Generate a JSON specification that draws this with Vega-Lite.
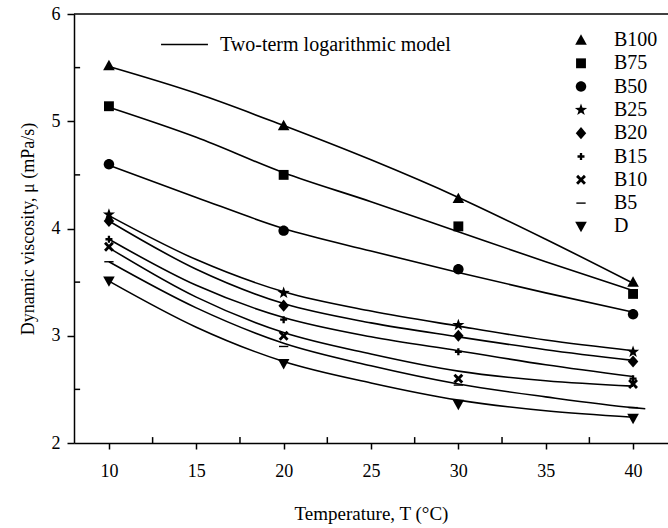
{
  "$schema": "https://vega.github.io/schema/vega-lite/v6.json",
  "width": 594,
  "height": 429,
  "autosize": {"type": "none"},
  "padding": {"left": 74, "top": 14, "right": 0, "bottom": 85},
  "background": "white",
  "config": {
    "view": {"stroke": null},
    "font": "Liberation Serif",
    "axis": {
      "domainColor": "black",
      "domainWidth": 1.5,
      "tickColor": "black",
      "tickWidth": 1.5,
      "grid": false,
      "labelFont": "Liberation Serif",
      "labelFontSize": 18,
      "labelColor": "black",
      "titleFont": "Liberation Serif",
      "titleFontSize": 18,
      "titleFontWeight": "normal",
      "titleColor": "black"
    },
    "legend": {
      "labelFont": "Liberation Serif",
      "labelFontSize": 20,
      "labelColor": "black",
      "labelLimit": 0,
      "padding": 0
    }
  },
  "datasets": {
    "curves": [
      {"series": "B100", "model": "Two-term logarithmic model", "T": 10, "mu": 5.51},
      {"series": "B100", "model": "Two-term logarithmic model", "T": 15, "mu": 5.26},
      {"series": "B100", "model": "Two-term logarithmic model", "T": 20, "mu": 4.96},
      {"series": "B100", "model": "Two-term logarithmic model", "T": 25, "mu": 4.64},
      {"series": "B100", "model": "Two-term logarithmic model", "T": 30, "mu": 4.29},
      {"series": "B100", "model": "Two-term logarithmic model", "T": 35, "mu": 3.9},
      {"series": "B100", "model": "Two-term logarithmic model", "T": 40, "mu": 3.49},
      {"series": "B75", "model": "Two-term logarithmic model", "T": 10, "mu": 5.13},
      {"series": "B75", "model": "Two-term logarithmic model", "T": 15, "mu": 4.85},
      {"series": "B75", "model": "Two-term logarithmic model", "T": 20, "mu": 4.52},
      {"series": "B75", "model": "Two-term logarithmic model", "T": 25, "mu": 4.25},
      {"series": "B75", "model": "Two-term logarithmic model", "T": 30, "mu": 3.97},
      {"series": "B75", "model": "Two-term logarithmic model", "T": 35, "mu": 3.69},
      {"series": "B75", "model": "Two-term logarithmic model", "T": 40, "mu": 3.42},
      {"series": "B50", "model": "Two-term logarithmic model", "T": 10, "mu": 4.59},
      {"series": "B50", "model": "Two-term logarithmic model", "T": 15, "mu": 4.29},
      {"series": "B50", "model": "Two-term logarithmic model", "T": 20, "mu": 4.0},
      {"series": "B50", "model": "Two-term logarithmic model", "T": 25, "mu": 3.79},
      {"series": "B50", "model": "Two-term logarithmic model", "T": 30, "mu": 3.59},
      {"series": "B50", "model": "Two-term logarithmic model", "T": 35, "mu": 3.4},
      {"series": "B50", "model": "Two-term logarithmic model", "T": 40, "mu": 3.22},
      {"series": "B25", "model": "Two-term logarithmic model", "T": 10, "mu": 4.12},
      {"series": "B25", "model": "Two-term logarithmic model", "T": 15, "mu": 3.71},
      {"series": "B25", "model": "Two-term logarithmic model", "T": 20, "mu": 3.41},
      {"series": "B25", "model": "Two-term logarithmic model", "T": 25, "mu": 3.23},
      {"series": "B25", "model": "Two-term logarithmic model", "T": 30, "mu": 3.09},
      {"series": "B25", "model": "Two-term logarithmic model", "T": 35, "mu": 2.96},
      {"series": "B25", "model": "Two-term logarithmic model", "T": 40, "mu": 2.86},
      {"series": "B20", "model": "Two-term logarithmic model", "T": 10, "mu": 4.07},
      {"series": "B20", "model": "Two-term logarithmic model", "T": 15, "mu": 3.62},
      {"series": "B20", "model": "Two-term logarithmic model", "T": 20, "mu": 3.3},
      {"series": "B20", "model": "Two-term logarithmic model", "T": 25, "mu": 3.12},
      {"series": "B20", "model": "Two-term logarithmic model", "T": 30, "mu": 2.99},
      {"series": "B20", "model": "Two-term logarithmic model", "T": 35, "mu": 2.87},
      {"series": "B20", "model": "Two-term logarithmic model", "T": 40, "mu": 2.77},
      {"series": "B15", "model": "Two-term logarithmic model", "T": 10, "mu": 3.9},
      {"series": "B15", "model": "Two-term logarithmic model", "T": 15, "mu": 3.47},
      {"series": "B15", "model": "Two-term logarithmic model", "T": 20, "mu": 3.17},
      {"series": "B15", "model": "Two-term logarithmic model", "T": 25, "mu": 2.99},
      {"series": "B15", "model": "Two-term logarithmic model", "T": 30, "mu": 2.86},
      {"series": "B15", "model": "Two-term logarithmic model", "T": 35, "mu": 2.73},
      {"series": "B15", "model": "Two-term logarithmic model", "T": 40, "mu": 2.62},
      {"series": "B10", "model": "Two-term logarithmic model", "T": 10, "mu": 3.82},
      {"series": "B10", "model": "Two-term logarithmic model", "T": 15, "mu": 3.36},
      {"series": "B10", "model": "Two-term logarithmic model", "T": 20, "mu": 3.03},
      {"series": "B10", "model": "Two-term logarithmic model", "T": 25, "mu": 2.83},
      {"series": "B10", "model": "Two-term logarithmic model", "T": 30, "mu": 2.67},
      {"series": "B10", "model": "Two-term logarithmic model", "T": 35, "mu": 2.58},
      {"series": "B10", "model": "Two-term logarithmic model", "T": 40, "mu": 2.53},
      {"series": "B5", "model": "Two-term logarithmic model", "T": 10, "mu": 3.69},
      {"series": "B5", "model": "Two-term logarithmic model", "T": 15, "mu": 3.26},
      {"series": "B5", "model": "Two-term logarithmic model", "T": 20, "mu": 2.93},
      {"series": "B5", "model": "Two-term logarithmic model", "T": 25, "mu": 2.72},
      {"series": "B5", "model": "Two-term logarithmic model", "T": 30, "mu": 2.55},
      {"series": "B5", "model": "Two-term logarithmic model", "T": 35, "mu": 2.43},
      {"series": "B5", "model": "Two-term logarithmic model", "T": 40, "mu": 2.33},
      {"series": "B5", "model": "Two-term logarithmic model", "T": 40.7, "mu": 2.32},
      {"series": "D", "model": "Two-term logarithmic model", "T": 10, "mu": 3.51},
      {"series": "D", "model": "Two-term logarithmic model", "T": 15, "mu": 3.08},
      {"series": "D", "model": "Two-term logarithmic model", "T": 20, "mu": 2.76},
      {"series": "D", "model": "Two-term logarithmic model", "T": 25, "mu": 2.56},
      {"series": "D", "model": "Two-term logarithmic model", "T": 30, "mu": 2.4},
      {"series": "D", "model": "Two-term logarithmic model", "T": 35, "mu": 2.3},
      {"series": "D", "model": "Two-term logarithmic model", "T": 40, "mu": 2.24}
    ],
    "points": [
      {"series": "B100", "T": 10, "mu": 5.52},
      {"series": "B100", "T": 20, "mu": 4.96},
      {"series": "B100", "T": 30, "mu": 4.28},
      {"series": "B100", "T": 40, "mu": 3.5},
      {"series": "B75", "T": 10, "mu": 5.14},
      {"series": "B75", "T": 20, "mu": 4.5},
      {"series": "B75", "T": 30, "mu": 4.02},
      {"series": "B75", "T": 40, "mu": 3.39},
      {"series": "B50", "T": 10, "mu": 4.6},
      {"series": "B50", "T": 20, "mu": 3.98},
      {"series": "B50", "T": 30, "mu": 3.62},
      {"series": "B50", "T": 40, "mu": 3.2},
      {"series": "B25", "T": 10, "mu": 4.13},
      {"series": "B25", "T": 20, "mu": 3.4},
      {"series": "B25", "T": 30, "mu": 3.1},
      {"series": "B25", "T": 40, "mu": 2.85},
      {"series": "B20", "T": 10, "mu": 4.07},
      {"series": "B20", "T": 20, "mu": 3.28},
      {"series": "B20", "T": 30, "mu": 3.0},
      {"series": "B20", "T": 40, "mu": 2.76},
      {"series": "B15", "T": 10, "mu": 3.9},
      {"series": "B15", "T": 20, "mu": 3.15},
      {"series": "B15", "T": 30, "mu": 2.85},
      {"series": "B15", "T": 40, "mu": 2.6},
      {"series": "B10", "T": 10, "mu": 3.83},
      {"series": "B10", "T": 20, "mu": 3.0},
      {"series": "B10", "T": 30, "mu": 2.6},
      {"series": "B10", "T": 40, "mu": 2.55},
      {"series": "B5", "T": 10, "mu": 3.69},
      {"series": "B5", "T": 20, "mu": 2.9},
      {"series": "B5", "T": 30, "mu": 2.54},
      {"series": "B5", "T": 40, "mu": 2.33},
      {"series": "D", "T": 10, "mu": 3.51},
      {"series": "D", "T": 20, "mu": 2.74},
      {"series": "D", "T": 30, "mu": 2.36},
      {"series": "D", "T": 40, "mu": 2.23}
    ],
    "minorX": [
      {"T": 12.5}, {"T": 17.5}, {"T": 22.5}, {"T": 27.5}, {"T": 32.5}, {"T": 37.5}
    ],
    "minorY": [
      {"mu": 2.5}, {"mu": 3.5}, {"mu": 4.5}, {"mu": 5.5}
    ],
    "top": [
      {"mu": 6}
    ]
  },
  "layer": [
    {
      "data": {"name": "curves"},
      "mark": {"type": "line", "interpolate": "monotone", "strokeWidth": 1.6},
      "encoding": {
        "x": {
          "field": "T",
          "type": "quantitative",
          "scale": {"domain": [8, 42], "nice": false, "zero": false},
          "axis": {
            "title": "Temperature, T (°C)",
            "titleFontSize": 19,
            "values": [10, 15, 20, 25, 30, 35, 40],
            "tickSize": 6,
            "labelPadding": 13,
            "titlePadding": 24,
            "labelFlush": false
          }
        },
        "y": {
          "field": "mu",
          "type": "quantitative",
          "scale": {"domain": [2, 6], "nice": false, "zero": false},
          "axis": {
            "title": "Dynamic viscosity, μ (mPa/s)",
            "values": [2, 3, 4, 5, 6],
            "format": "d",
            "tickSize": 7,
            "labelPadding": 7,
            "titlePadding": 14,
            "labelFlush": false
          }
        },
        "detail": {"field": "series"},
        "color": {
          "field": "model",
          "type": "nominal",
          "scale": {"range": ["black"]},
          "legend": {
            "orient": "none",
            "legendX": 86,
            "legendY": 6,
            "title": null,
            "symbolType": "stroke",
            "symbolSize": 2200,
            "symbolStrokeWidth": 1.5,
            "symbolStrokeColor": "black",
            "labelOffset": 11,
            "labelFontSize": 20,
            "labelLimit": 0
          }
        }
      }
    },
    {
      "data": {"name": "points"},
      "mark": {"type": "point", "filled": true, "color": "black", "size": 135, "strokeWidth": 0, "opacity": 1},
      "encoding": {
        "x": {"field": "T", "type": "quantitative"},
        "y": {"field": "mu", "type": "quantitative"},
        "shape": {
          "field": "series",
          "type": "nominal",
          "scale": {
            "domain": ["B100", "B75", "B50", "B25", "B20", "B15", "B10", "B5", "D"],
            "range": [
              "M0,-1L1,0.8L-1,0.8Z",
              "M-0.85,-0.85L0.85,-0.85L0.85,0.85L-0.85,0.85Z",
              "M-0.9,0A0.9,0.9,0,1,0,0.9,0A0.9,0.9,0,1,0,-0.9,0Z",
              "M0,-1.1L0.26,-0.36L1.05,-0.34L0.42,0.14L0.65,0.89L0,0.44L-0.65,0.89L-0.42,0.14L-1.05,-0.34L-0.26,-0.36Z",
              "M0,-1.05L0.9,0L0,1.05L-0.9,0Z",
              "M-0.2,-0.6L0.2,-0.6L0.2,-0.2L0.6,-0.2L0.6,0.2L0.2,0.2L0.2,0.6L-0.2,0.6L-0.2,0.2L-0.6,0.2L-0.6,-0.2L-0.2,-0.2Z",
              "M-0.85,-0.5L-0.5,-0.85L0,-0.35L0.5,-0.85L0.85,-0.5L0.35,0L0.85,0.5L0.5,0.85L0,0.35L-0.5,0.85L-0.85,0.5L-0.35,0Z",
              "M-0.8,-0.12L0.8,-0.12L0.8,0.12L-0.8,0.12Z",
              "M0,1L1,-0.8L-1,-0.8Z"
            ]
          },
          "legend": {
            "orient": "none",
            "legendX": 497,
            "legendY": 16,
            "title": null,
            "symbolSize": 135,
            "symbolFillColor": "black",
            "symbolStrokeColor": "black",
            "symbolStrokeWidth": 0,
            "labelOffset": 23,
            "rowPadding": 3.3,
            "labelFontSize": 20
          }
        }
      }
    },
    {
      "data": {"name": "top"},
      "mark": {"type": "rule", "color": "black", "strokeWidth": 1.5},
      "encoding": {
        "y": {"field": "mu", "type": "quantitative"}
      }
    },
    {
      "data": {"name": "minorX"},
      "mark": {"type": "rule", "color": "black", "strokeWidth": 1.5},
      "encoding": {
        "x": {"field": "T", "type": "quantitative"},
        "y": {"datum": 2},
        "y2": {"datum": 2.055}
      }
    },
    {
      "data": {"name": "minorY"},
      "mark": {"type": "rule", "color": "black", "strokeWidth": 1.5},
      "encoding": {
        "y": {"field": "mu", "type": "quantitative"},
        "x": {"datum": 8},
        "x2": {"datum": 8.35}
      }
    }
  ]
}
